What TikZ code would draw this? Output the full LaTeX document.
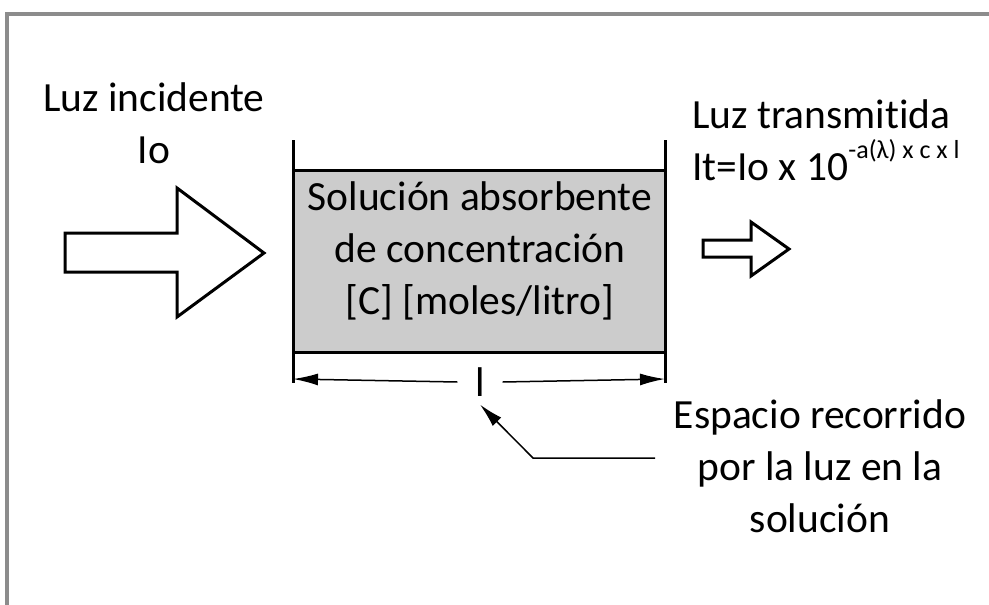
\documentclass[tikz,border=0pt]{standalone}
\usepackage{fontspec}
\setmainfont{Carlito}[Ligatures=NoCommon]
\usetikzlibrary{arrows.meta,positioning,calc}

\begin{document}
\begin{tikzpicture}[
    x=1pt, y=-1pt,
    every node/.style={font=\fontsize{41.5}{52}\selectfont, inner sep=0pt},
    frame/.style={draw=black!45, line width=3.5pt},
    hollow/.style={draw, line width=3pt, fill=white},
    wall/.style={line width=3pt},
    cell/.style={draw, line width=3pt, fill=black!20, outer sep=0pt,
                 minimum width=372pt, minimum height=182pt},
    dim/.style={line width=1.5pt, -{Latex[length=25pt, width=12pt]}},
    lead/.style={line width=1.5pt, -{Latex[length=24pt, width=12pt]}}
]
\useasboundingbox (0,0) rectangle (989,605);
\draw[frame] (7,605) -- (7,14) -- (989,14);

% light in and out
\draw[hollow] (65,233) -- (177,233) -- (177,188) -- (264,253) -- (177,317)
    -- (177,272) -- (65,272) -- cycle;
\draw[hollow] (703,240) -- (751,240) -- (751,222) -- (789,249) -- (751,276)
    -- (751,257) -- (703,257) -- cycle;
\node[anchor=base, align=center] (incid) at (154,163) {Luz incidente\\Io};
\node[anchor=base west, align=left] (trans) at (692,180)
    {Luz transmitida\\It=Io x 10\raisebox{22pt}{\fontsize{26}{26}\selectfont -a(λ) x c x l}};

% the cell
\node[cell] (cell) at (479,261) {};
\draw[wall] ([yshift=30pt]cell.north west) -- ([yshift=-31pt]cell.south west);
\draw[wall] ([yshift=30pt]cell.north east) -- ([yshift=-31pt]cell.south east);
\node[anchor=base, align=center] (celltxt) at (480,314)
    {Solución absorbente\\de concentración\\{}[C] [moles/litro]};

% path length
\coordinate (dl) at ($(cell.south west)+(0,27)$);
\coordinate (dr) at ($(cell.south east)+(0,27)$);
\node[minimum width=45pt, inner ysep=8pt] (len) at (480,382) {l};
\draw[dim] (len.west) -- (dl);
\draw[dim] (len.east) -- (dr);

\coordinate (tail) at (655,458);
\coordinate (knee) at (533,458);
\draw[lead] (tail) -- (knee) -- (len.south);
\node[anchor=base, align=center] (espacio) at (820,532)
    {Espacio recorrido\\por la luz en la\\solución};
\end{tikzpicture}
\end{document}
